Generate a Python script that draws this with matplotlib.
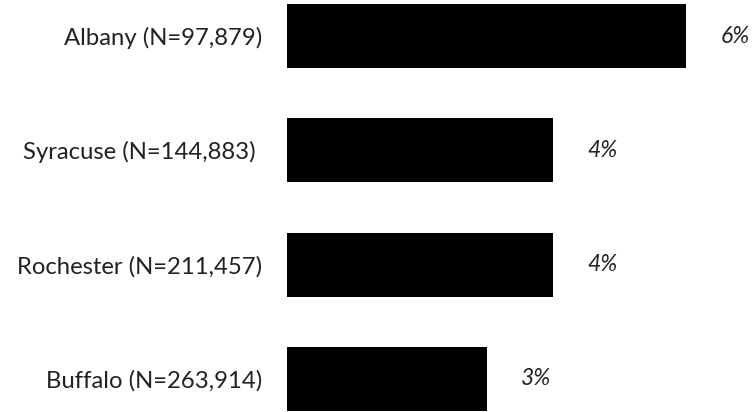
import matplotlib
matplotlib.use("Agg")
import matplotlib.pyplot as plt

cities = ["Buffalo (N=263,914)", "Rochester (N=211,457)",
          "Syracuse (N=144,883) ", "Albany (N=97,879)"]
shares = [3, 4, 4, 6]
share_labels = ["3%", "4%", "4%", "6%"]

plt.rcParams['font.family'] = ['Lato', 'DejaVu Sans']

fig = plt.figure(figsize=(7.52, 4.12), dpi=100)
ax = fig.add_axes([287 / 752, 0, 465 / 752, 1])

pos = list(range(len(cities)))
ax.barh(pos, shares, height=0.56, color="black")
for p, v, lab in zip(pos, shares, share_labels):
    ax.annotate(lab, (v, p), xytext=(25, 0), textcoords="offset points",
                va="center", ha="left", style="italic", fontsize=16.5, color="#222222")

ax.set_xlim(0, 465 / 66.5)
ax.set_ylim(-0.289, 3.315)
ax.set_yticks(pos)
ax.set_yticklabels(cities, fontsize=17.2, color="#222222")
ax.tick_params(axis="y", length=0, pad=18)
ax.set_xticks([])
for s in ax.spines.values():
    s.set_visible(False)

fig.savefig("out.png", dpi=100)
